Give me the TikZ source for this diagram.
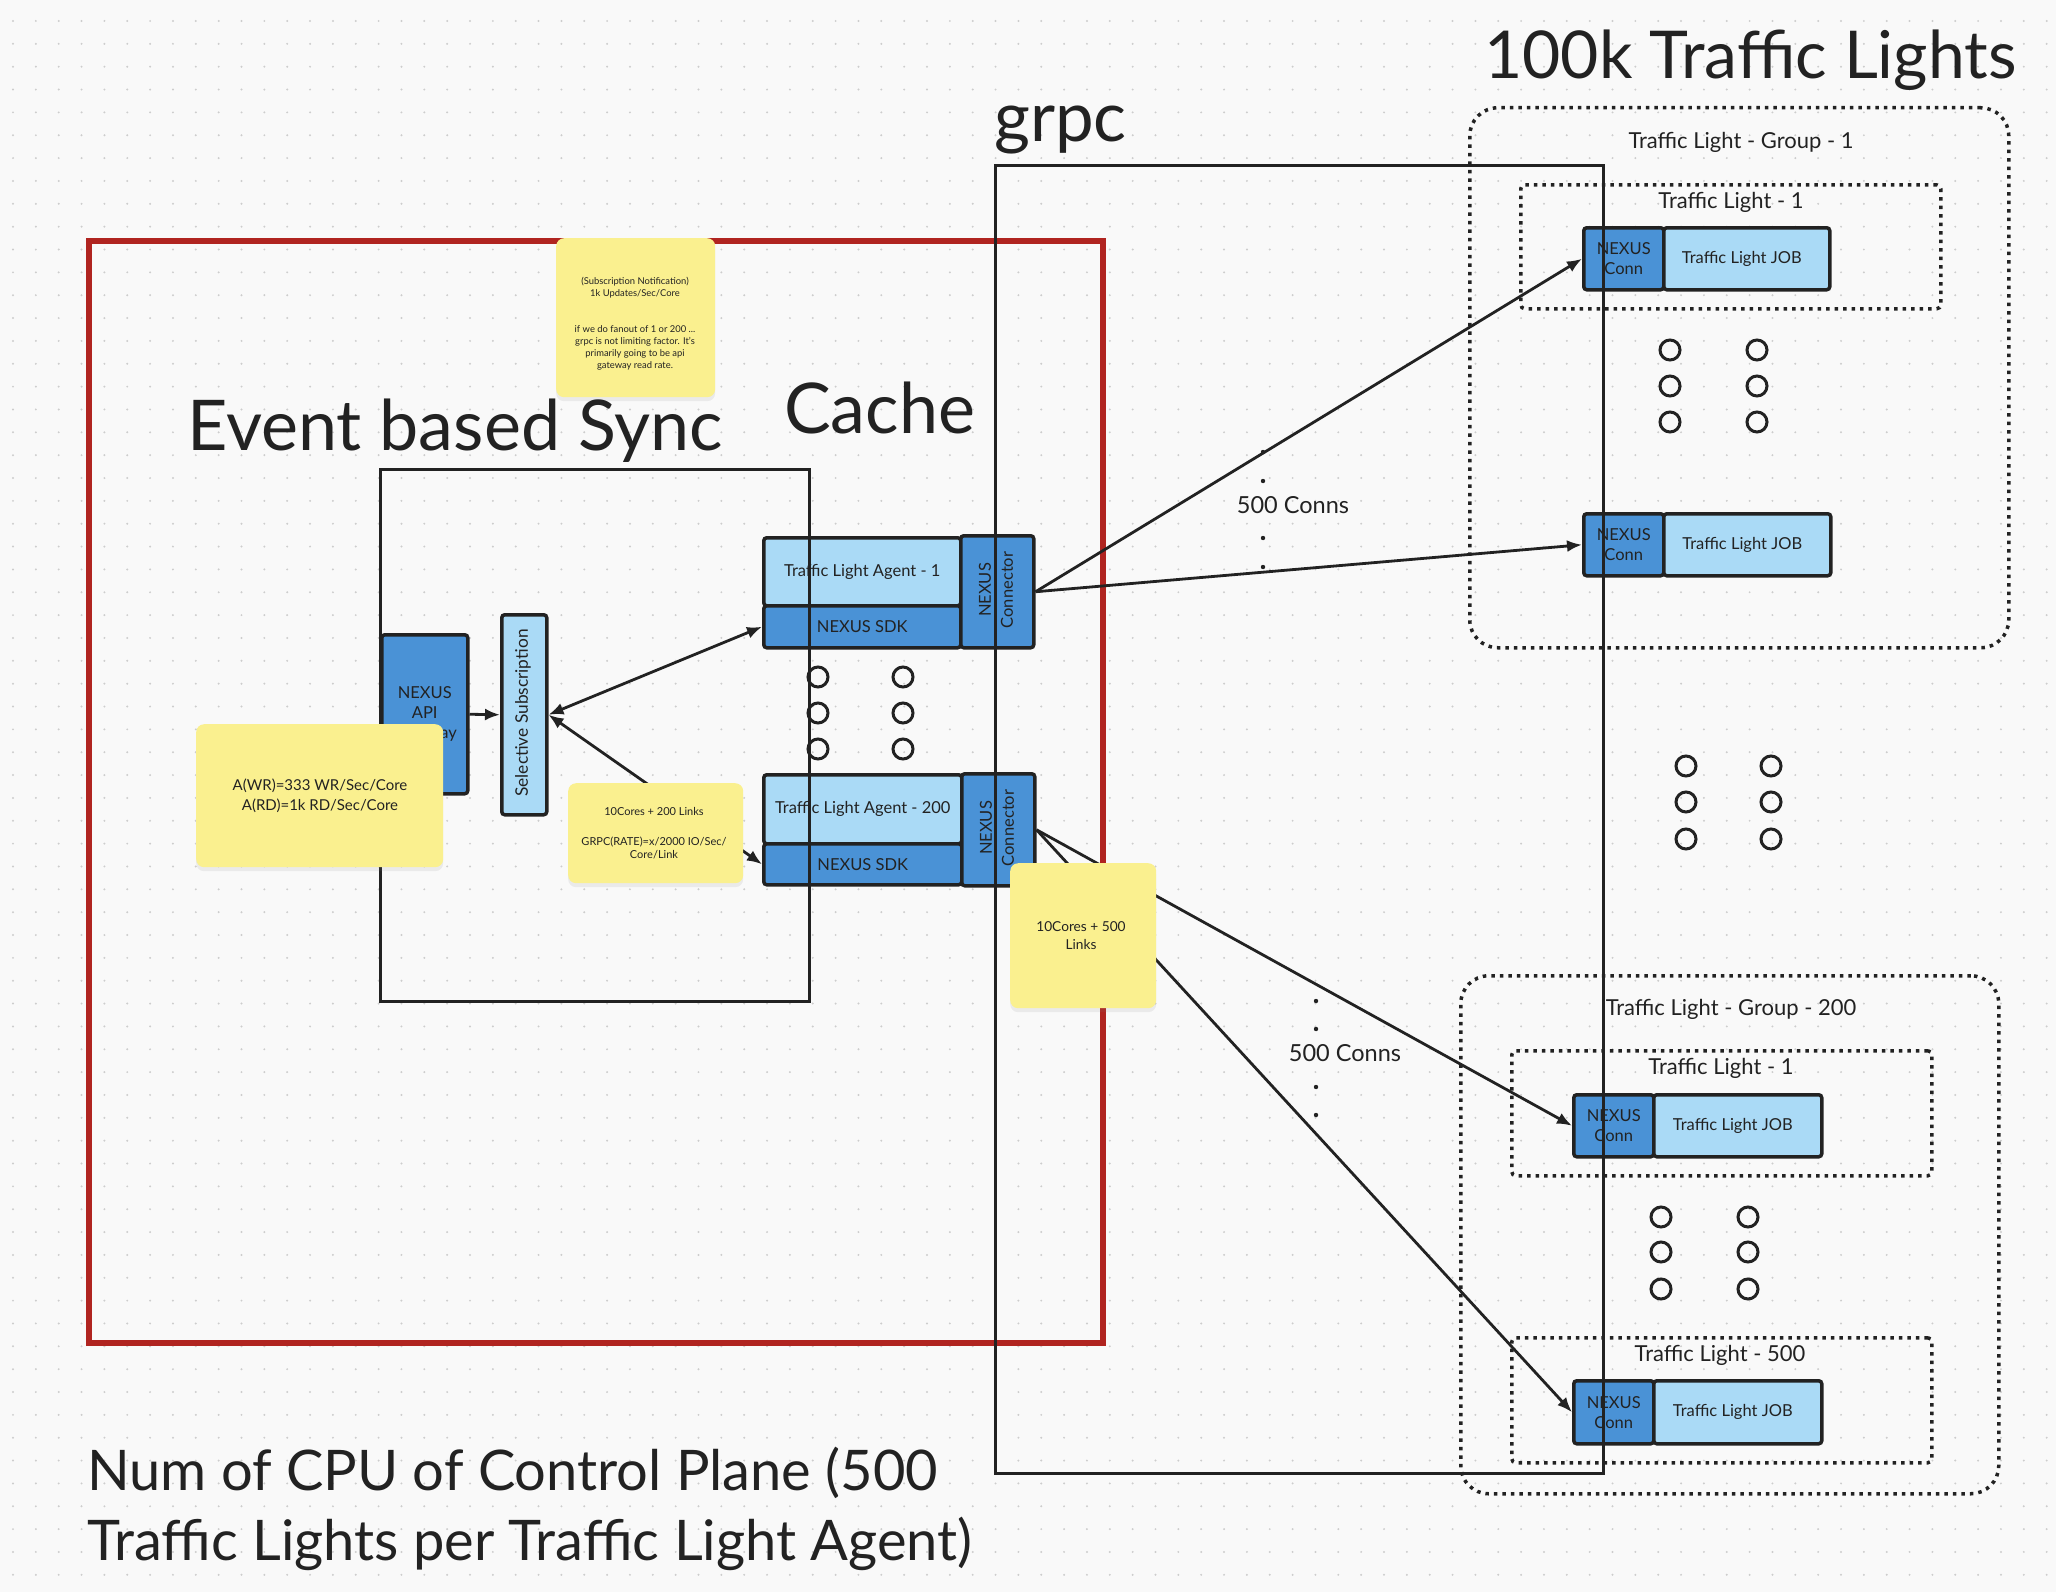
\documentclass[tikz,border=0pt]{standalone}
\usepackage{fontspec}
\setmainfont{Lato}
\usetikzlibrary{arrows.meta,shadows}
\definecolor{bgc}{RGB}{249,249,249}
\definecolor{gdot}{RGB}{205,205,205}
\definecolor{ink}{RGB}{34,34,34}
\definecolor{midblue}{RGB}{74,146,214}
\definecolor{lightblue}{RGB}{170,218,246}
\definecolor{stickyc}{RGB}{250,240,143}
\definecolor{framered}{RGB}{176,36,32}
\begin{document}
\begin{tikzpicture}[x=1pt,y=-1pt,
  every node/.style={text=ink},
  frame/.style={draw=ink, line width=3pt, inner sep=0pt, anchor=north west},
  box/.style={draw=ink, line width=3.5pt, rounded corners=3pt, inner sep=0pt, anchor=north west, align=center, font=\fontsize{16.5}{20}\selectfont},
  darkbox/.style={box, fill=midblue},
  lightbox/.style={box, fill=lightblue},
  grouprect/.style={draw=ink, line width=3.5pt, dash pattern=on 3.5pt off 5pt, rounded corners=28pt, inner sep=0pt, anchor=north west},
  lightrect/.style={draw=ink, line width=3.5pt, dash pattern=on 3.5pt off 5pt, rounded corners=4pt, inner sep=0pt, anchor=north west},
  note/.style={fill=stickyc, rounded corners=8pt, inner sep=0pt, anchor=north west, drop shadow={shadow xshift=0pt, shadow yshift=-4pt, opacity=0.12}},
  notetext/.style={align=center, inner sep=0pt},
  arr/.style={draw=ink, line width=2.8pt, -{Latex[length=15pt,width=12pt]}},
  arrboth/.style={draw=ink, line width=2.8pt, {Latex[length=15pt,width=12pt]}-{Latex[length=15pt,width=12pt]}},
  ring/.style={draw=ink, line width=3pt},
  bigtext/.style={inner sep=0pt, anchor=base west},
  midtext/.style={font=\fontsize{22}{26}\selectfont, inner sep=0pt},
  jobtext/.style={lightbox, text depth=0pt},
]
\fill[bgc] (0,0) rectangle (2056,1592);
\useasboundingbox (0,0) rectangle (2056,1592);
\foreach \i in {0,...,89}{\foreach \j in {0,...,69}{\fill[gdot] ({13+\i*22.85},{21+\j*22.85}) circle (1.1pt);}}

% red frame
\node[draw=framered, line width=6pt, inner sep=0pt, anchor=north west, minimum width=1014pt, minimum height=1102pt] (redframe) at (86,238) {};

% traffic light groups
\node[grouprect, minimum width=539pt, minimum height=540pt] (g1) at (1468,106) {};
\node[midtext] (g1lbl) at (1741,142) {Traffic Light - Group - 1};
\node[lightrect, minimum width=420pt, minimum height=124pt] (g1t1) at (1519,183) {};
\node[midtext] (g1t1lbl) at (1731,202) {Traffic Light - 1};
\node[darkbox, minimum width=80pt, minimum height=62pt] (g1c1) at (1582,226) {NEXUS\\Conn};
\node[lightbox, minimum width=166pt, minimum height=62pt] (g1j1) at (1662,226) {Traffic Light JOB\hspace*{10pt}};
\node[darkbox, minimum width=80pt, minimum height=62pt] (g1c2) at (1582,512) {NEXUS\\Conn};
\node[lightbox, minimum width=167pt, minimum height=62pt] (g1j2) at (1662,512) {Traffic Light JOB\hspace*{10pt}};

\node[grouprect, minimum width=538pt, minimum height=518pt] (g2) at (1459,974) {};
\node[midtext] (g2lbl) at (1731,1009) {Traffic Light - Group - 200};
\node[lightrect, minimum width=420pt, minimum height=125pt] (g2t1) at (1510,1049) {};
\node[midtext] (g2t1lbl) at (1721,1068) {Traffic Light - 1};
\node[darkbox, minimum width=80pt, minimum height=62pt] (g2c1) at (1572,1093) {NEXUS\\Conn};
\node[lightbox, minimum width=168pt, minimum height=62pt] (g2j1) at (1652,1093) {Traffic Light JOB\hspace*{10pt}};
\node[lightrect, minimum width=420pt, minimum height=125pt] (g2t500) at (1510,1336) {};
\node[midtext] (g2t500lbl) at (1720,1355) {Traffic Light - 500};
\node[darkbox, minimum width=80pt, minimum height=63pt] (g2c500) at (1572,1379) {NEXUS\\Conn};
\node[lightbox, minimum width=168pt, minimum height=63pt] (g2j500) at (1652,1379) {Traffic Light JOB\hspace*{10pt}};

% control plane boxes
\node[darkbox, minimum width=86pt, minimum height=159pt] (api) at (380,633) {NEXUS\\API\\Gateway};
\node[lightbox, minimum width=45pt, minimum height=200pt] (sel) at (500,613) {};
\node[rotate=90, font=\fontsize{17.3}{20}\selectfont, inner sep=0pt] (sellbl) at (523,713) {Selective Subscription};

\node[lightbox, minimum width=197pt, minimum height=68pt] (ag1) at (762,536) {Traffic Light Agent - 1};
\node[darkbox, minimum width=197pt, minimum height=42pt] (sdk1) at (762,604) {NEXUS SDK};
\node[darkbox, minimum width=73pt, minimum height=112pt] (con1) at (959,534) {};
\node[rotate=90, align=center, font=\fontsize{16.5}{22}\selectfont, inner sep=0pt] (con1lbl) at (996,590) {NEXUS\\Connector};

\node[lightbox, minimum width=198pt, minimum height=69pt] (ag200) at (762,773) {Traffic Light Agent - 200};
\node[darkbox, minimum width=198pt, minimum height=41pt] (sdk200) at (762,842) {NEXUS SDK};
\node[darkbox, minimum width=73pt, minimum height=112pt] (con200) at (960,772) {};
\node[rotate=90, align=center, font=\fontsize{16.5}{22}\selectfont, inner sep=0pt] (con200lbl) at (997,828) {NEXUS\\Connector};

% connectors
\draw[arr] (api.east) -- (sel.west);
\draw[arrboth] (sel.east) -- (sdk1.west);
\draw[arrboth] (sel.east) -- (sdk200.west);
\draw[arr] (con1.east) -- (g1c1.west);
\draw[arr] (con1.east) -- (g1c2.west);
\draw[arr] (con200.east) -- (g2c1.west);
\draw[arr] (con200.east) -- (g2c500.west);

% frames on top
\node[frame, minimum width=429pt, minimum height=532pt] (evt) at (379,468) {};
\node[frame, minimum width=608pt, minimum height=1308pt] (grpc) at (994,164) {};

% ellipsis rings
\foreach \x in {818,903}{\foreach \y in {677,713,749}{\draw[ring] (\x,\y) circle (10pt);}}
\foreach \x in {1670,1757}{\foreach \y in {350,386,422}{\draw[ring] (\x,\y) circle (10pt);}}
\foreach \x in {1686,1771}{\foreach \y in {766,802,839}{\draw[ring] (\x,\y) circle (10pt);}}
\foreach \x in {1661,1748}{\foreach \y in {1217,1252,1289}{\draw[ring] (\x,\y) circle (10pt);}}

% 500 conns
\foreach \y in {452,481,538,567}{\fill[ink] (1263,\y) circle (2.2pt);}
\node[midtext, font=\fontsize{23.5}{26}\selectfont] (conns1) at (1293,505) {500 Conns};
\foreach \y in {1001,1029,1087,1115}{\fill[ink] (1316,\y) circle (2.2pt);}
\node[midtext, font=\fontsize{23.5}{26}\selectfont] (conns2) at (1345,1053) {500 Conns};

% sticky notes
\node[note, minimum width=159pt, minimum height=159pt] (topnote) at (556,238) {};
\node[notetext, font=\fontsize{9.4}{12}\selectfont] (topnoteA) at (635,287.5) {(Subscription Notification)\\1k Updates/Sec/Core};
\node[notetext, font=\fontsize{9.4}{12}\selectfont] (topnoteB) at (635,348) {if we do fanout of 1 or 200 ...\\grpc is not limiting factor. It's\\primarily going to be api\\gateway read rate.};

\node[note, minimum width=247pt, minimum height=143pt] (awr) at (196,724) {};
\node[notetext, font=\fontsize{15}{20}\selectfont] (awrtext) at (320,796) {A(WR)=333 WR/Sec/Core\\A(RD)=1k RD/Sec/Core};

\node[note, minimum width=175pt, minimum height=100pt] (n200) at (568,783) {};
\node[notetext, font=\fontsize{11}{13}\selectfont] (n200a) at (654,811) {10Cores + 200 Links};
\node[notetext, font=\fontsize{11}{13}\selectfont] (n200b) at (654,847.5) {GRPC(RATE)=x/2000 IO/Sec/\\Core/Link};

\node[note, minimum width=146pt, minimum height=145pt] (n500) at (1010,863) {};
\node[notetext, font=\fontsize{13.7}{18}\selectfont] (n500text) at (1081,936) {10Cores + 500\\Links};

% titles
\node[bigtext, font=\fontsize{66}{70}\selectfont] (title) at (1484,79) {100k Traffic Lights};
\node[bigtext, font=\fontsize{69}{70}\selectfont] (grpclbl) at (994,142) {grpc};
\node[bigtext, font=\fontsize{70}{70}\selectfont] (cachelbl) at (784,433) {Cache};
\node[bigtext, font=\fontsize{70}{70}\selectfont] (evtlbl) at (187,450) {Event based Sync};
\node[bigtext, font=\fontsize{56}{70}\selectfont] (cpu1) at (87,1490) {Num of CPU of Control Plane (500};
\node[bigtext, font=\fontsize{56}{70}\selectfont] (cpu2) at (87,1560) {Traffic Lights per Traffic Light Agent)};
\end{tikzpicture}
\end{document}
